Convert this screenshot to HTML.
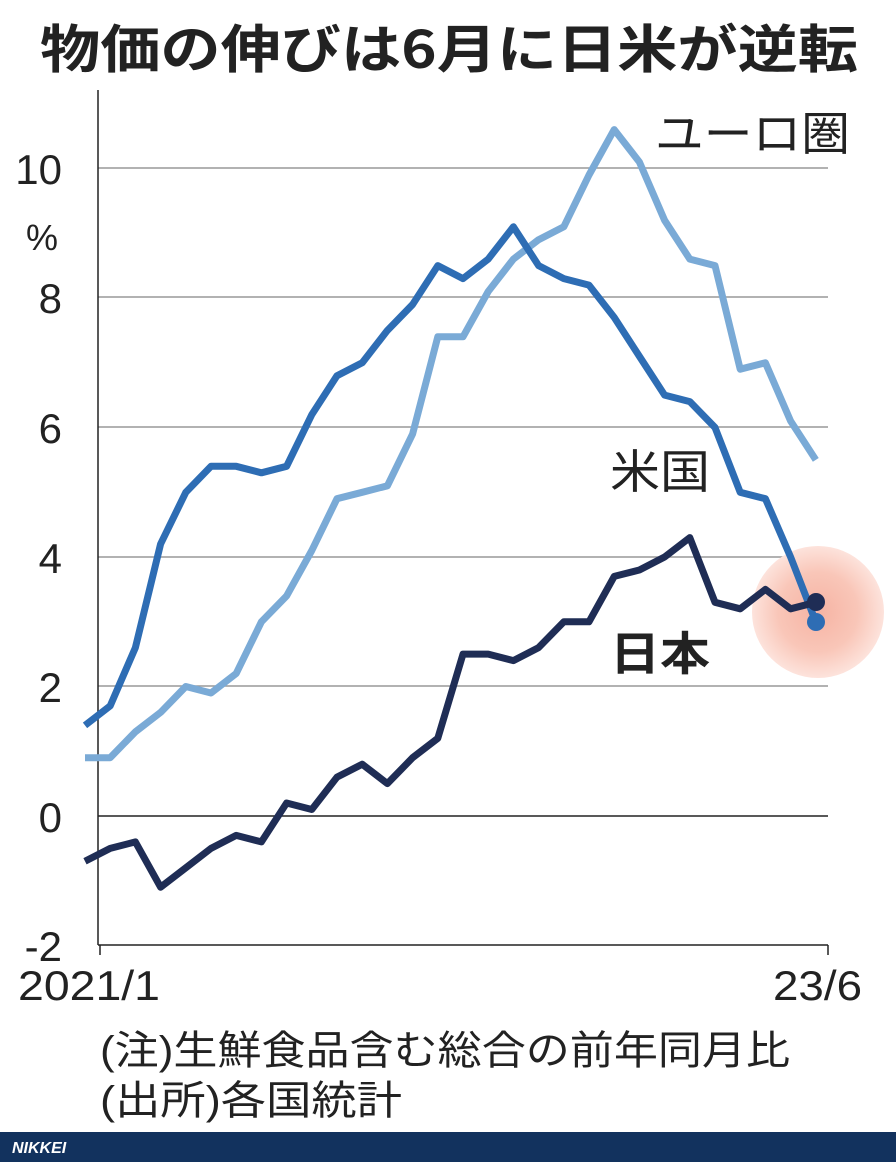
<!DOCTYPE html>
<html><head><meta charset="utf-8"><style>
body{margin:0;background:#fff;}
svg{display:block;}
text{font-family:"Liberation Sans","Noto Sans CJK JP",sans-serif;fill:#222;}
</style></head><body>
<svg id="s" width="896" height="1162" viewBox="0 0 896 1162" xmlns="http://www.w3.org/2000/svg">
<defs><radialGradient id="g"><stop offset="0" stop-color="#f6b3a3"/><stop offset="0.6" stop-color="#f9c6b8"/><stop offset="1" stop-color="#fde3dc"/></radialGradient></defs>
<text x="40" y="68" font-size="52" font-weight="bold" textLength="818" lengthAdjust="spacingAndGlyphs" style="font-family:'Noto Sans CJK JP',sans-serif">物価の伸びは6月に日米が逆転</text>
<g stroke="#999" stroke-width="1.5">
<line x1="98" y1="168" x2="828" y2="168"/><line x1="98" y1="297" x2="828" y2="297"/>
<line x1="98" y1="427" x2="828" y2="427"/><line x1="98" y1="557" x2="828" y2="557"/>
<line x1="98" y1="686" x2="828" y2="686"/>
</g>
<line x1="98" y1="816" x2="828" y2="816" stroke="#222" stroke-width="1.5"/>
<line x1="98" y1="90" x2="98" y2="945" stroke="#222" stroke-width="1.5"/>
<line x1="98" y1="945" x2="828" y2="945" stroke="#222" stroke-width="1.5"/>
<line x1="100" y1="945" x2="100" y2="955" stroke="#222" stroke-width="1.5"/>
<line x1="828" y1="945" x2="828" y2="955" stroke="#222" stroke-width="1.5"/>
<g font-size="42" text-anchor="end">
<text x="62" y="184">10</text><text x="62" y="313">8</text><text x="62" y="443">6</text>
<text x="62" y="573">4</text><text x="62" y="702">2</text><text x="62" y="832">0</text><text x="62" y="961">-2</text>
</g>
<text x="42" y="250" font-size="36" text-anchor="middle">%</text>
<text x="18" y="1000" font-size="42" textLength="142" lengthAdjust="spacingAndGlyphs">2021/1</text>
<text x="773" y="1000" font-size="42" textLength="89" lengthAdjust="spacingAndGlyphs">23/6</text>
<circle cx="818" cy="612" r="66" fill="url(#g)"/>
<g id="lines" fill="none" stroke-width="7" stroke-linejoin="round"></g>
<circle cx="816" cy="622" r="9" fill="#2e6db4"/>
<circle cx="816" cy="602" r="9" fill="#1f2d55"/>
<text x="655" y="150" font-size="46" textLength="195" lengthAdjust="spacingAndGlyphs">ユーロ圏</text>
<text x="610" y="488" font-size="46" textLength="100" lengthAdjust="spacingAndGlyphs">米国</text>
<text x="610" y="670" font-size="46" font-weight="bold" textLength="100" lengthAdjust="spacingAndGlyphs">日本</text>
<text x="100" y="1064" font-size="40" textLength="690" lengthAdjust="spacingAndGlyphs">(注)生鮮食品含む総合の前年同月比</text>
<text x="100" y="1114" font-size="40" textLength="302" lengthAdjust="spacingAndGlyphs">(出所)各国統計</text>
<rect x="0" y="1132" width="896" height="30" fill="#12325e"/>
<text x="12" y="1153" font-size="16" font-weight="bold" font-style="italic" style="fill:#fff">NIKKEI</text>
</svg>
<script>
var E=[0.9,0.9,1.3,1.6,2.0,1.9,2.2,3.0,3.4,4.1,4.9,5.0,5.1,5.9,7.4,7.4,8.1,8.6,8.9,9.1,9.9,10.6,10.1,9.2,8.6,8.5,6.9,7.0,6.1,5.5];
var U=[1.4,1.7,2.6,4.2,5.0,5.4,5.4,5.3,5.4,6.2,6.8,7.0,7.5,7.9,8.5,8.3,8.6,9.1,8.5,8.3,8.2,7.7,7.1,6.5,6.4,6.0,5.0,4.9,4.0,3.0];
var J=[-0.7,-0.5,-0.4,-1.1,-0.8,-0.5,-0.3,-0.4,0.2,0.1,0.6,0.8,0.5,0.9,1.2,2.5,2.5,2.4,2.6,3.0,3.0,3.7,3.8,4.0,4.3,3.3,3.2,3.5,3.2,3.3];
function pts(a){return a.map(function(v,i){return (85+i*25.2).toFixed(1)+","+(816-64.75*v).toFixed(1);}).join(" ");}
var g=document.getElementById("lines"),ns="http://www.w3.org/2000/svg";
[[E,"#7aaad6"],[U,"#2e6db4"],[J,"#1f2d55"]].forEach(function(d){var p=document.createElementNS(ns,"polyline");p.setAttribute("points",pts(d[0]));p.setAttribute("stroke",d[1]);g.appendChild(p);});
</script>
</body></html>
